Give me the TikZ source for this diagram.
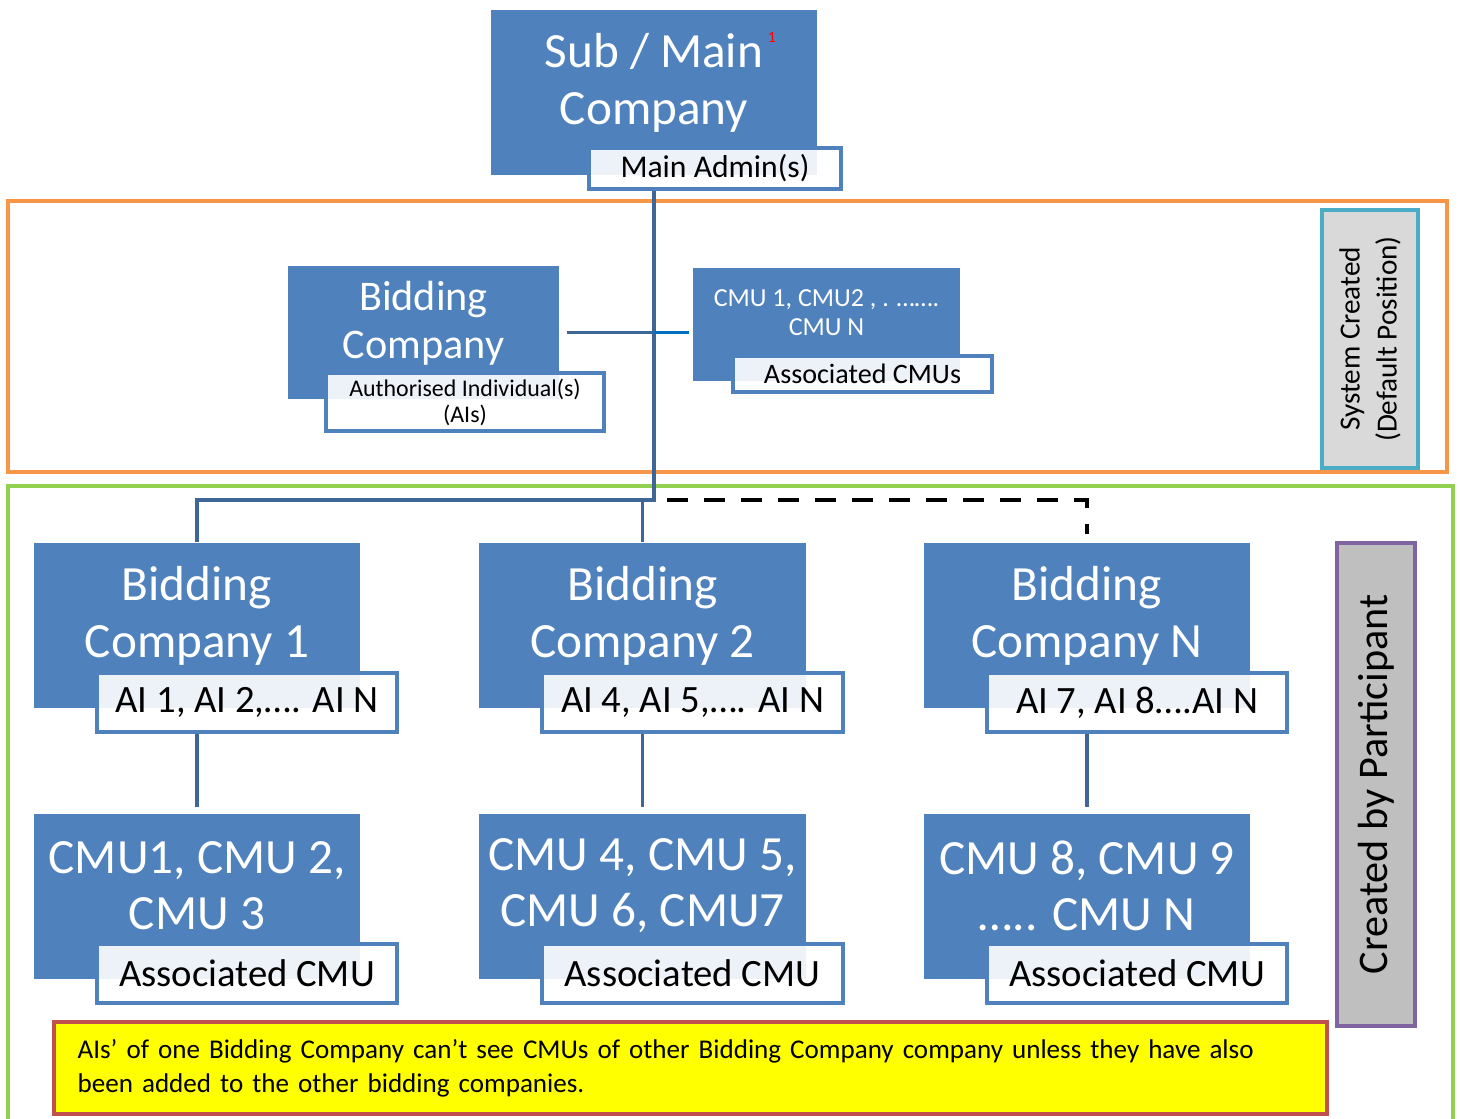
\documentclass[tikz,border=0pt]{standalone}
\usepackage{fontspec}
\setmainfont{Carlito}
\definecolor{compblue}{HTML}{4F81BD}
\definecolor{linkblue}{HTML}{3E6696}
\definecolor{brightblue}{HTML}{0070C0}
\definecolor{frameorange}{HTML}{F79646}
\definecolor{framegreen}{HTML}{92D050}
\definecolor{sidecyan}{HTML}{4BACC6}
\definecolor{sidepurple}{HTML}{8064A2}
\definecolor{notered}{HTML}{C0504D}
\definecolor{noteyellow}{HTML}{FFFF00}
\begin{document}
\begin{tikzpicture}[x=.01cm, y=-.01cm,
  comp/.style={fill=compblue, minimum width=3.26cm, minimum height=1.65cm, inner sep=0},
  ttl/.style={text=white, align=center, inner sep=0, font=\fontsize{14}{16}\selectfont},
  role/.style={draw=compblue, line width=1.1pt, fill=white, fill opacity=.9, text opacity=1,
    inner sep=0, align=center, minimum width=3cm, minimum height=.59cm, font=\fontsize{11}{13}\selectfont},
  link/.style={draw=linkblue, line width=1.1pt},
  frame/.style={line width=.9pt},
  side/.style={line width=1.2pt, rotate=90, inner sep=0, align=center}]
\useasboundingbox (0,0) rectangle (1460,1119);
\draw[frame, draw=frameorange] (8,201) rectangle (1447,472);
\draw[frame, draw=framegreen] (8,486) rectangle (1453,1135);

\node[comp] (main) at (654,92.5) {};
\node[ttl] (maint) at (654,83) {Sub / Main\\Company};
\node[text=red, inner sep=0, font=\fontsize{4.5}{5}\selectfont] (fn) at (772,37) {1};
\node[role, minimum width=2.52cm, minimum height=.41cm, font=\fontsize{9}{11}\selectfont] (admin) at (715,168.5) {Main Admin(s)};

\node[comp, minimum width=2.71cm, minimum height=1.33cm] (bid) at (423.5,332.5) {};
\node[ttl, font=\fontsize{12}{13.7}\selectfont] (bidt) at (423.5,323) {Bidding\\Company};
\node[role, minimum width=2.78cm, minimum height=.58cm, font=\fontsize{6.8}{7.4}\selectfont] (ais) at (465,402) {Authorised Individual(s)\\(AIs)};
\node[comp, minimum width=2.67cm, minimum height=1.13cm] (cmus) at (826.5,324.5) {};
\node[ttl, font=\fontsize{7.4}{8.3}\selectfont] (cmust) at (826.5,313) {CMU 1, CMU2 , . …….\\CMU N};
\node[role, minimum width=2.59cm, minimum height=.36cm, font=\fontsize{8}{10}\selectfont] (assoc) at (862.5,374) {Associated CMUs};

\foreach \n/\x/\ai/\cmu in {1/197/{AI 1, AI 2,…. AI N}/{CMU1, CMU 2,\\CMU 3},
    2/642.5/{AI 4, AI 5,…. AI N}/{CMU 4, CMU 5,\\CMU 6, CMU7},
    N/1087/{AI 7, AI 8….AI N}/{CMU 8, CMU 9\\….. CMU N}}{
  \node[comp] (bid\n) at (\x,625.5) {};
  \node[ttl] (bid\n t) at (\x,616) {Bidding\\Company \n};
  \node[role] (ai\n) at (\x+50,702.5) {\ai};
  \node[comp] (cmu\n) at (\x,896.5) {};
  \node[ttl] (cmu\n t) at (\x,886) {\cmu};
  \node[role] (as\n) at (\x+50,973.5) {Associated CMU};
  \draw[link] (ai\n.south -| bid\n.south) -- ([yshift=.06cm]cmu\n.north);
}

\coordinate (hub) at (654,500);
\draw[link] (main.south |- admin.south) -- (hub) -| (bid1.north);
\draw[link] ([xshift=.07cm]bid.east) -- (hub |- bid.east);
\draw[link, draw=brightblue] (hub |- bid.east) -- ([xshift=-.03cm]cmus.west |- bid.east);
\draw[link] (bid2.north) -- (bid2.north |- hub);
\draw[line width=1.2pt, dash pattern=on .21cm off .16cm] ([xshift=.13cm]hub) -| ([yshift=.08cm]bidN.north);

\node[side, draw=sidecyan, fill=black!15, minimum width=2.58cm, minimum height=.96cm,
  font=\fontsize{8.3}{10.5}\selectfont] (sys) at (1370,339) {System Created\\(Default Position)};
\node[side, draw=sidepurple, fill=black!25, minimum width=4.83cm, minimum height=.78cm,
  font=\fontsize{12}{14}\selectfont] (part) at (1376,784.5) {Created by Participant};

\node[draw=notered, line width=1.2pt, fill=noteyellow, minimum width=12.73cm, minimum height=.92cm,
  text width=12.25cm, inner xsep=.24cm, align=left, font=\fontsize{7.7}{9.7}\selectfont] (note) at (690.5,1068)
  {AIs’ of one Bidding Company can’t see CMUs of other Bidding Company company unless they have also\\been added to the other bidding companies.};
\end{tikzpicture}
\end{document}
